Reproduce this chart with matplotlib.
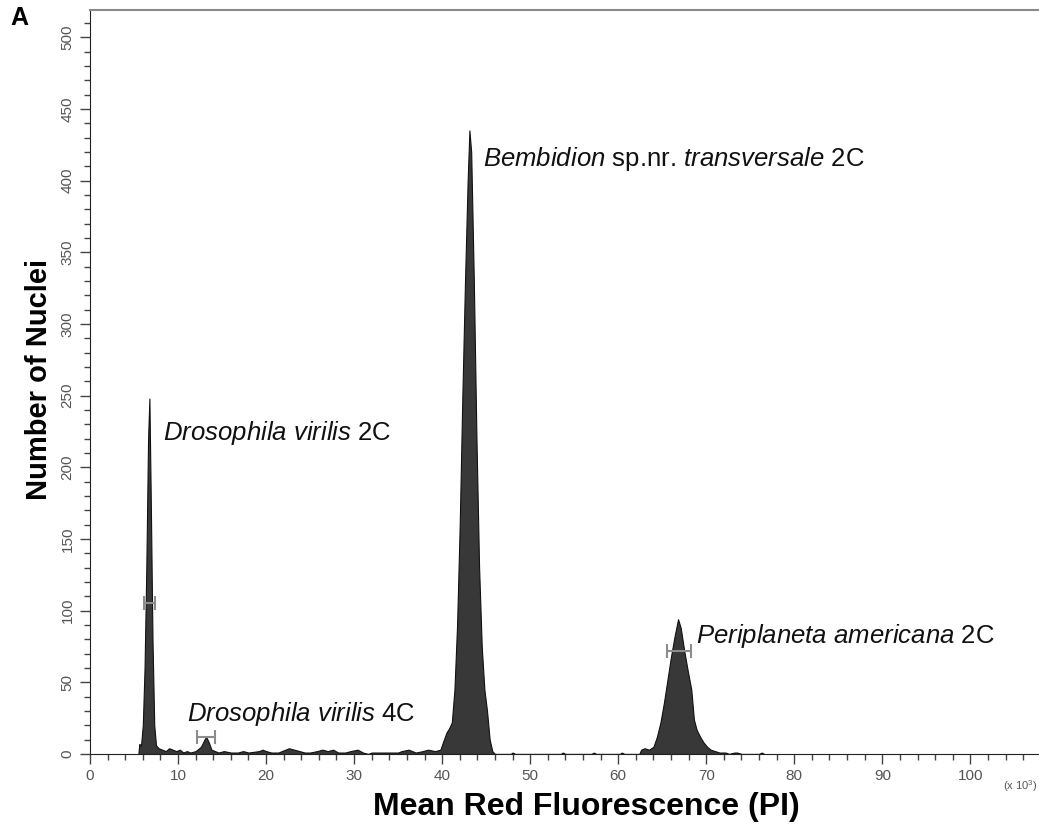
import matplotlib
matplotlib.use("Agg")
import matplotlib.pyplot as plt
from matplotlib.ticker import MultipleLocator

plt.rcParams['font.family'] = ['Liberation Sans', 'DejaVu Sans']
plt.rcParams['mathtext.fontset'] = 'custom'
plt.rcParams['mathtext.it'] = 'Liberation Sans:italic'
plt.rcParams['mathtext.rm'] = 'Liberation Sans'

# fluorescence (x 10^3) and nuclei count
fluor = [5.5, 5.6, 5.8, 6.0, 6.2, 6.4, 6.6, 6.75, 6.9, 7.1, 7.3, 7.5, 7.8, 8.2, 8.6,
         9.0, 9.4, 9.8, 10.2, 10.6, 11.0, 11.4, 12.0, 12.6, 13.0, 13.2, 13.5, 13.8,
         14.2, 14.6, 15.2, 16.0, 16.8, 17.4, 18.0, 19.2, 19.6, 20.0, 20.6, 21.4,
         22.2, 22.6, 23.2, 23.8, 24.4, 25.0, 25.8, 26.4, 27.0, 27.6, 28.2, 29.0,
         29.6, 30.4, 31.0, 31.6, 32.0, 35.0, 35.4, 36.2, 37.0, 37.8, 38.4, 39.2,
         39.8, 40.2, 40.5, 40.8, 41.1, 41.4, 41.7, 42.0, 42.3, 42.6, 42.9, 43.1,
         43.3, 43.6, 43.9, 44.2, 44.5, 44.8, 45.1, 45.4, 45.7, 46.0,
         47.8, 48.0, 48.3, 53.5, 53.7, 54.0, 57.0, 57.2, 57.5, 60.2, 60.4, 60.7,
         62.4, 62.6, 63.0, 63.5, 64.0, 64.4, 64.8, 65.2, 65.6, 66.0, 66.4, 66.8,
         67.1, 67.5, 67.9, 68.3, 68.6, 68.9, 69.3, 69.7, 70.1, 70.5, 71.0, 71.5,
         72.2, 72.6, 73.2, 73.5, 74.0, 76.0, 76.3, 76.6]
counts = [0, 7, 6, 20, 60, 130, 220, 248, 180, 80, 20, 6, 4, 3, 2,
          4, 3, 2, 3, 1, 2, 1, 2, 5, 10, 12, 8, 3,
          2, 1, 2, 1, 1, 2, 1, 2, 3, 2, 1, 1,
          3, 4, 3, 2, 1, 1, 2, 3, 2, 3, 1, 1,
          2, 3, 1, 0, 1, 1, 2, 3, 1, 2, 3, 2,
          3, 10, 15, 18, 22, 45, 90, 160, 250, 330, 400, 435,
          420, 330, 220, 130, 75, 45, 30, 10, 2, 0,
          0, 1, 0, 0, 1, 0, 0, 1, 0, 0, 1, 0,
          0, 3, 4, 3, 5, 12, 22, 36, 52, 68, 82, 94,
          88, 72, 58, 45, 24, 17, 12, 8, 5, 3, 2, 1,
          1, 0, 1, 1, 0, 0, 1, 0]

# gated regions: centre, half width, marker height
gate_x = [6.75, 13.2, 66.9]
gate_hw = [0.65, 1.0, 1.4]
gate_y = [105, 12, 72]

labels = [r'$\it{Drosophila\ virilis}$ 2C',
          r'$\it{Drosophila\ virilis}$ 4C',
          r'$\it{Bembidion}$ sp.nr. $\it{transversale}$ 2C',
          r'$\it{Periplaneta\ americana}$ 2C']
label_x = [8.3, 11.0, 44.7, 68.8]
label_y = [224, 28, 415, 82]

fig = plt.figure(figsize=(10.39, 8.26), dpi=100)
ax = fig.add_axes([0.0866, 0.0872, 0.9134, 0.9007])

ax.fill_between(fluor, counts, 0, color='#383838', edgecolor='#111111', linewidth=0.8)
ax.errorbar(gate_x, gate_y, xerr=gate_hw, fmt='none', ecolor='#8c8c8c',
            elinewidth=1.5, capsize=5, capthick=1.5)

for txt, x, y in zip(labels, label_x, label_y):
    ax.text(x, y, txt, fontsize=18.5, color='#111111', ha='left', va='center')

ax.set_xlim(0, 107.8)
ax.set_ylim(0, 519)
ax.xaxis.set_major_locator(MultipleLocator(10))
ax.xaxis.set_minor_locator(MultipleLocator(2))
ax.yaxis.set_major_locator(MultipleLocator(50))
ax.yaxis.set_minor_locator(MultipleLocator(10))
ax.tick_params(which='major', length=7, width=1, color='#444444', labelsize=11,
               labelcolor='#555555')
ax.tick_params(which='minor', length=4, width=1, color='#444444')
ax.tick_params(axis='y', labelrotation=90, pad=4)
for lab in ax.get_yticklabels():
    lab.set_va('center')

ax.spines['right'].set_visible(False)
ax.spines['top'].set_color('#8a8a8a')
ax.spines['top'].set_linewidth(1.5)
ax.spines['left'].set_color('#222222')
ax.spines['bottom'].set_color('#222222')

ax.set_xlabel('Mean Red Fluorescence (PI)', fontsize=23, fontweight='bold')
ax.set_ylabel('Number of Nuclei', fontsize=21, fontweight='bold')
ax.xaxis.set_label_coords(0.523, -0.051)
ax.yaxis.set_label_coords(-0.039, 0.504)
fig.text(0.999, 0.048, r'(x 10$^3$)', fontsize=8, color='#555555',
         ha='right', va='center')
fig.text(0.01, 0.978, 'A', fontsize=18, fontweight='bold', va='center')

fig.savefig('out.png', dpi=100)
